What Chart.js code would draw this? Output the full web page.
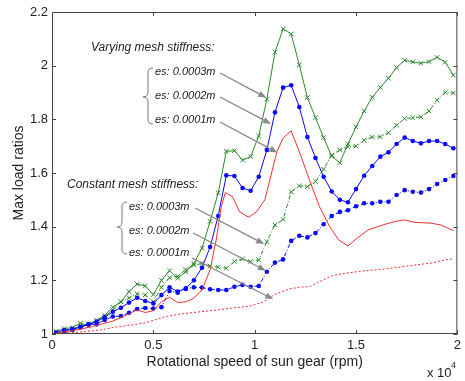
<!DOCTYPE html>
<html>
<head>
<meta charset="utf-8">
<script src="https://cdn.jsdelivr.net/npm/chart.js@4/dist/chart.umd.min.js"></script>
<style>
  body { margin: 0; background: #fff; }
  canvas { display: block; }
</style>
</head>
<body>
<canvas id="chart" width="465" height="381"></canvas>
<script>
// rotational speed of sun gear (x 10^4 rpm), points with markers
const speedMarked = [0.02,0.06,0.10,0.14,0.18,0.22,0.26,0.30,0.34,0.38,0.42,0.46,0.50,0.54,0.58,0.62,0.66,0.70,0.74,0.78,0.82,0.86,0.90,0.94,0.98,1.02,1.06,1.10,1.14,1.18,1.22,1.26,1.30,1.34,1.38,1.42,1.46,1.50,1.54,1.58,1.62,1.66,1.70,1.74,1.78,1.82,1.86,1.90,1.94,1.98];

// varying mesh stiffness
const varying3 = [1.01,1.02,1.024,1.04,1.03,1.05,1.07,1.10,1.12,1.158,1.186,1.179,1.147,1.20,1.236,1.208,1.232,1.263,1.32,1.42,1.526,1.681,1.683,1.648,1.661,1.738,1.875,2.05,2.137,2.118,2.003,1.881,1.806,1.732,1.663,1.638,1.708,1.772,1.831,1.882,1.919,1.953,1.993,2.02,2.014,2.009,2.015,2.031,2.013,1.965];
const varying2 = [1.005,1.015,1.018,1.027,1.036,1.046,1.062,1.083,1.098,1.117,1.135,1.123,1.114,1.145,1.174,1.158,1.17,1.20,1.247,1.324,1.44,1.591,1.589,1.544,1.534,1.586,1.686,1.826,1.918,1.927,1.846,1.734,1.656,1.586,1.531,1.50,1.491,1.54,1.59,1.626,1.661,1.677,1.708,1.732,1.719,1.711,1.719,1.719,1.708,1.692];
const varying1X = [0.02,0.10,0.20,0.30,0.38,0.42,0.46,0.50,0.54,0.58,0.62,0.66,0.70,0.74,0.78,0.81,0.835,0.855,0.89,0.925,0.97,1.01,1.05,1.11,1.14,1.18,1.23,1.27,1.32,1.37,1.415,1.46,1.505,1.56,1.63,1.69,1.74,1.79,1.87,1.92,1.98];
const varying1 = [1.003,1.012,1.028,1.048,1.075,1.09,1.08,1.087,1.12,1.137,1.117,1.12,1.133,1.164,1.239,1.35,1.474,1.527,1.512,1.456,1.435,1.456,1.50,1.68,1.73,1.757,1.66,1.574,1.474,1.40,1.35,1.328,1.357,1.388,1.406,1.419,1.425,1.416,1.413,1.406,1.385];

// constant mesh stiffness
const constant3 = [1.005,1.01,1.018,1.03,1.038,1.05,1.065,1.09,1.12,1.135,1.15,1.146,1.12,1.174,1.21,1.215,1.24,1.257,1.263,1.253,1.249,1.245,1.27,1.28,1.27,1.276,1.344,1.406,1.427,1.53,1.552,1.549,1.568,1.614,1.667,1.686,1.698,1.70,1.722,1.734,1.735,1.75,1.778,1.803,1.806,1.809,1.831,1.871,1.90,1.898];
const constant2 = [1.0,1.003,1.015,1.024,1.036,1.036,1.052,1.065,1.067,1.079,1.093,1.097,1.095,1.10,1.16,1.154,1.168,1.174,1.173,1.167,1.164,1.164,1.176,1.183,1.176,1.179,1.232,1.266,1.278,1.347,1.366,1.36,1.376,1.409,1.44,1.455,1.461,1.476,1.487,1.487,1.493,1.493,1.518,1.536,1.53,1.527,1.54,1.559,1.574,1.589];
const constant1X = [0.02,0.08,0.16,0.24,0.32,0.40,0.46,0.48,0.56,0.64,0.72,0.81,0.89,0.97,1.04,1.10,1.17,1.23,1.27,1.32,1.38,1.46,1.55,1.63,1.71,1.79,1.87,1.94,1.98];
const constant1 = [1.0,1.003,1.009,1.015,1.027,1.034,1.042,1.046,1.065,1.075,1.082,1.089,1.097,1.103,1.118,1.148,1.168,1.175,1.176,1.195,1.217,1.228,1.236,1.241,1.249,1.257,1.264,1.276,1.28];

const xTicks = [0, 0.5, 1, 1.5, 2];
const yTicks = [1, 1.2, 1.4, 1.6, 1.8, 2, 2.2];

const GREEN = "#2b8a2b";
const BLUE = "#0a0aff";
const RED = "#f03030";
const FONT = "'Liberation Sans', Arial, sans-serif";

function pts(xs, ys) {
  return ys.map((y, i) => ({ x: xs[i], y: y }));
}

function arrow(ctx, x1, y1, x2, y2) {
  var a = Math.atan2(y2 - y1, x2 - x1);
  var len = 8, w = 3.2;
  ctx.beginPath();
  ctx.moveTo(x1, y1);
  ctx.lineTo(x2 - Math.cos(a) * len, y2 - Math.sin(a) * len);
  ctx.stroke();
  ctx.beginPath();
  ctx.moveTo(x2, y2);
  ctx.lineTo(x2 - Math.cos(a) * len - Math.sin(a) * w, y2 - Math.sin(a) * len + Math.cos(a) * w);
  ctx.lineTo(x2 - Math.cos(a) * len + Math.sin(a) * w, y2 - Math.sin(a) * len - Math.cos(a) * w);
  ctx.closePath();
  ctx.fill();
}

function brace(ctx, xEnd, xMid, xTip, yTop, yCusp, yBot) {
  ctx.beginPath();
  ctx.moveTo(xEnd, yTop);
  ctx.quadraticCurveTo(xMid, yTop, xMid, yTop + 5);
  ctx.lineTo(xMid, yCusp - 5);
  ctx.quadraticCurveTo(xMid, yCusp, xTip, yCusp);
  ctx.quadraticCurveTo(xMid, yCusp, xMid, yCusp + 5);
  ctx.lineTo(xMid, yBot - 5);
  ctx.quadraticCurveTo(xMid, yBot, xEnd, yBot);
  ctx.stroke();
}

const extras = {
  id: "extras",
  afterDraw(chart) {
    const ctx = chart.ctx;
    const a = chart.chartArea;
    const xs = chart.scales.x, ys = chart.scales.y;
    ctx.save();
    // box + inward ticks
    ctx.strokeStyle = "#444";
    ctx.lineWidth = 1;
    ctx.strokeRect(a.left + 0.5, a.top + 0.5, a.right - a.left - 1, a.bottom - a.top - 1);
    ctx.beginPath();
    xTicks.forEach(v => {
      var px = Math.round(xs.getPixelForValue(v)) + 0.5;
      ctx.moveTo(px, a.bottom); ctx.lineTo(px, a.bottom - 4);
      ctx.moveTo(px, a.top); ctx.lineTo(px, a.top + 4);
    });
    yTicks.forEach(v => {
      var py = Math.round(ys.getPixelForValue(v)) + 0.5;
      ctx.moveTo(a.left, py); ctx.lineTo(a.left + 4, py);
      ctx.moveTo(a.right, py); ctx.lineTo(a.right - 4, py);
    });
    ctx.stroke();

    // x 10^4
    ctx.fillStyle = "#222";
    ctx.textBaseline = "middle";
    ctx.textAlign = "left";
    ctx.font = "13px " + FONT;
    ctx.fillText("x 10", 427, 373);
    ctx.font = "9px " + FONT;
    ctx.fillText("4", 451, 366);

    // annotations
    ctx.font = "italic 12px " + FONT;
    ctx.fillText("Varying mesh stiffness:", 91, 48);
    ctx.fillText("Constant mesh stiffness:", 67, 185);
    ctx.font = "italic 11px " + FONT;
    ctx.fillText("es: 0.0003m", 155, 72);
    ctx.fillText("es: 0.0002m", 155, 96);
    ctx.fillText("es: 0.0001m", 155, 120);
    ctx.fillText("es: 0.0003m", 129, 207);
    ctx.fillText("es: 0.0002m", 129, 231);
    ctx.fillText("es: 0.0001m", 129, 253);

    ctx.strokeStyle = "#777";
    brace(ctx, 153, 148, 143, 68, 97, 124);
    brace(ctx, 127, 122, 117, 202, 227, 254);

    ctx.strokeStyle = "#888";
    ctx.fillStyle = "#888";
    ctx.lineWidth = 1.4;
    arrow(ctx, 220, 73, xs.getPixelForValue(1.057), ys.getPixelForValue(1.881));
    arrow(ctx, 220, 97, xs.getPixelForValue(1.08), ys.getPixelForValue(1.783));
    arrow(ctx, 220, 122, xs.getPixelForValue(1.112), ys.getPixelForValue(1.676));
    arrow(ctx, 195, 208, xs.getPixelForValue(1.047), ys.getPixelForValue(1.335));
    arrow(ctx, 193, 233, xs.getPixelForValue(1.055), ys.getPixelForValue(1.236));
    arrow(ctx, 192, 258, xs.getPixelForValue(1.091), ys.getPixelForValue(1.13));
    ctx.restore();
  }
};

new Chart(document.getElementById("chart"), {
  type: "line",
  data: {
    datasets: [
      { data: pts(constant1X, constant1), borderColor: RED, borderWidth: 1, borderDash: [2, 2], pointRadius: 0 },
      { data: pts(varying1X, varying1), borderColor: RED, borderWidth: 1, pointRadius: 0 },
      { data: pts(speedMarked, constant2), borderColor: BLUE, borderWidth: 1, borderDash: [4, 2, 1, 2],
        pointStyle: "circle", pointRadius: 2.3, pointBackgroundColor: BLUE, pointBorderColor: BLUE, pointBorderWidth: 0 },
      { data: pts(speedMarked, varying2), borderColor: BLUE, borderWidth: 1,
        pointStyle: "circle", pointRadius: 2.3, pointBackgroundColor: BLUE, pointBorderColor: BLUE, pointBorderWidth: 0 },
      { data: pts(speedMarked, constant3), borderColor: GREEN, borderWidth: 1, borderDash: [4, 2, 1, 2],
        pointStyle: "crossRot", pointRadius: 3.2, pointBorderColor: GREEN, pointBorderWidth: 1 },
      { data: pts(speedMarked, varying3), borderColor: GREEN, borderWidth: 1,
        pointStyle: "crossRot", pointRadius: 3.2, pointBorderColor: GREEN, pointBorderWidth: 1 }
    ]
  },
  options: {
    responsive: false,
    animation: false,
    layout: { padding: { left: 0, right: 6, top: 12, bottom: 0 } },
    plugins: { legend: { display: false }, tooltip: { enabled: false } },
    elements: { line: { tension: 0 } },
    scales: {
      x: {
        type: "linear", min: 0, max: 2,
        afterBuildTicks: s => { s.ticks = xTicks.map(v => ({ value: v })); },
        afterFit: s => { s.height = 47; },
        grid: { display: false, drawTicks: false },
        border: { display: false },
        ticks: { padding: 4, color: "#222", font: { family: FONT, size: 13 }, maxRotation: 0,
          callback: v => String(v) },
        title: { display: true, text: "Rotational speed of sun gear (rpm)", color: "#222",
          font: { family: FONT, size: 14 }, padding: { top: 0, bottom: 10 } }
      },
      y: {
        type: "linear", min: 1, max: 2.2,
        afterBuildTicks: s => { s.ticks = yTicks.map(v => ({ value: v })); },
        afterFit: s => { s.width = 52; },
        grid: { display: false, drawTicks: false },
        border: { display: false },
        ticks: { padding: 4, color: "#222", font: { family: FONT, size: 13 },
          callback: v => String(Number(v.toFixed(1))) },
        title: { display: true, text: "Max load ratios", color: "#222",
          font: { family: FONT, size: 14 }, padding: { top: 11, bottom: 0 } }
      }
    }
  },
  plugins: [extras]
});
</script>
</body>
</html>
